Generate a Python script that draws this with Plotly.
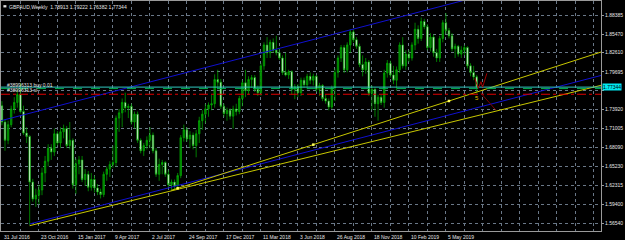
import pandas as pd
import plotly.graph_objects as go

WEEK0 = pd.Timestamp("2016-07-31")

opens = [1.745, 1.720, 1.692, 1.716, 1.740, 1.750, 1.762, 1.736, 1.703, 1.698,
         1.628, 1.602, 1.608, 1.616, 1.642, 1.660, 1.680, 1.674, 1.702, 1.688,
         1.705, 1.710, 1.684, 1.692, 1.624, 1.656, 1.662, 1.632, 1.640, 1.620,
         1.632, 1.619, 1.613, 1.609, 1.640, 1.648, 1.655, 1.658, 1.726, 1.734,
         1.750, 1.742, 1.744, 1.720, 1.732, 1.692, 1.676, 1.684, 1.692, 1.700,
         1.676, 1.640, 1.655, 1.658, 1.640, 1.624, 1.628, 1.622, 1.638, 1.696,
         1.708, 1.694, 1.700, 1.684, 1.702, 1.722, 1.732, 1.740, 1.746, 1.748,
         1.785, 1.781, 1.744, 1.733, 1.738, 1.729, 1.740, 1.736, 1.756, 1.780,
         1.768, 1.785, 1.788, 1.770, 1.765, 1.806, 1.838, 1.826, 1.842, 1.830,
         1.826, 1.818, 1.796, 1.792, 1.797, 1.770, 1.774, 1.765, 1.784, 1.777,
         1.790, 1.784, 1.790, 1.770, 1.776, 1.756, 1.752, 1.743, 1.772, 1.796,
         1.818, 1.834, 1.800, 1.838, 1.858, 1.846, 1.836, 1.808, 1.800, 1.812,
         1.764, 1.770, 1.748, 1.758, 1.750, 1.795, 1.810, 1.792, 1.784, 1.800,
         1.838, 1.806, 1.824, 1.818, 1.838, 1.862, 1.848, 1.874, 1.866, 1.834,
         1.850, 1.826, 1.818, 1.848, 1.872, 1.860, 1.852, 1.832, 1.836, 1.824,
         1.830, 1.834, 1.806, 1.796, 1.78913]
highs = [1.752, 1.724, 1.722, 1.745, 1.758, 1.770, 1.780, 1.745, 1.712, 1.700,
         1.633, 1.618, 1.624, 1.650, 1.668, 1.686, 1.686, 1.710, 1.706, 1.712,
         1.716, 1.714, 1.720, 1.695, 1.664, 1.668, 1.668, 1.648, 1.645, 1.642,
         1.638, 1.625, 1.618, 1.644, 1.652, 1.660, 1.684, 1.730, 1.740, 1.756,
         1.765, 1.748, 1.748, 1.736, 1.736, 1.695, 1.688, 1.698, 1.712, 1.704,
         1.680, 1.664, 1.662, 1.660, 1.646, 1.632, 1.632, 1.642, 1.700, 1.716,
         1.712, 1.706, 1.704, 1.708, 1.728, 1.738, 1.748, 1.750, 1.762, 1.793,
         1.800, 1.786, 1.748, 1.742, 1.741, 1.745, 1.748, 1.760, 1.784, 1.800,
         1.790, 1.792, 1.792, 1.776, 1.810, 1.842, 1.850, 1.846, 1.848, 1.852,
         1.832, 1.822, 1.826, 1.800, 1.799, 1.778, 1.778, 1.788, 1.788, 1.794,
         1.796, 1.794, 1.792, 1.780, 1.778, 1.762, 1.756, 1.776, 1.802, 1.822,
         1.838, 1.838, 1.842, 1.862, 1.862, 1.850, 1.840, 1.822, 1.818, 1.815,
         1.776, 1.773, 1.762, 1.762, 1.800, 1.815, 1.814, 1.806, 1.805, 1.842,
         1.850, 1.830, 1.830, 1.842, 1.872, 1.868, 1.880, 1.878, 1.870, 1.856,
         1.854, 1.832, 1.852, 1.876, 1.887, 1.864, 1.856, 1.840, 1.838, 1.836,
         1.838, 1.836, 1.810, 1.806, 1.79222]
lows = [1.715, 1.676, 1.686, 1.712, 1.733, 1.742, 1.733, 1.700, 1.688, 1.562,
        1.598, 1.590, 1.594, 1.608, 1.628, 1.652, 1.662, 1.668, 1.684, 1.680,
        1.695, 1.680, 1.678, 1.618, 1.610, 1.640, 1.628, 1.622, 1.614, 1.615,
        1.612, 1.608, 1.603, 1.605, 1.630, 1.636, 1.650, 1.652, 1.705, 1.712,
        1.735, 1.726, 1.716, 1.710, 1.688, 1.672, 1.668, 1.678, 1.680, 1.672,
        1.636, 1.630, 1.640, 1.636, 1.620, 1.615, 1.616, 1.618, 1.634, 1.690,
        1.690, 1.680, 1.678, 1.666, 1.688, 1.708, 1.718, 1.728, 1.738, 1.742,
        1.770, 1.740, 1.728, 1.722, 1.724, 1.710, 1.730, 1.732, 1.744, 1.758,
        1.762, 1.772, 1.766, 1.760, 1.760, 1.800, 1.818, 1.818, 1.826, 1.822,
        1.815, 1.792, 1.790, 1.786, 1.762, 1.755, 1.758, 1.760, 1.772, 1.770,
        1.778, 1.776, 1.766, 1.760, 1.752, 1.748, 1.738, 1.740, 1.752, 1.788,
        1.812, 1.795, 1.796, 1.826, 1.842, 1.832, 1.804, 1.790, 1.794, 1.760,
        1.738, 1.728, 1.722, 1.746, 1.742, 1.788, 1.788, 1.778, 1.768, 1.795,
        1.802, 1.800, 1.812, 1.814, 1.830, 1.840, 1.844, 1.862, 1.830, 1.828,
        1.820, 1.812, 1.812, 1.842, 1.855, 1.848, 1.828, 1.818, 1.820, 1.818,
        1.822, 1.802, 1.790, 1.784, 1.76382]
closes = [1.720, 1.692, 1.716, 1.740, 1.750, 1.762, 1.736, 1.703, 1.698, 1.628,
          1.602, 1.608, 1.616, 1.642, 1.660, 1.680, 1.674, 1.702, 1.688, 1.705,
          1.710, 1.684, 1.692, 1.624, 1.656, 1.662, 1.632, 1.640, 1.620, 1.632,
          1.619, 1.613, 1.609, 1.640, 1.648, 1.655, 1.658, 1.726, 1.734, 1.750,
          1.742, 1.744, 1.720, 1.732, 1.692, 1.676, 1.684, 1.692, 1.700, 1.676,
          1.640, 1.655, 1.658, 1.640, 1.624, 1.628, 1.622, 1.638, 1.696, 1.708,
          1.694, 1.700, 1.684, 1.702, 1.722, 1.732, 1.740, 1.746, 1.748, 1.785,
          1.781, 1.744, 1.733, 1.738, 1.729, 1.740, 1.736, 1.756, 1.780, 1.768,
          1.785, 1.788, 1.770, 1.765, 1.806, 1.838, 1.826, 1.842, 1.830, 1.826,
          1.818, 1.796, 1.792, 1.797, 1.770, 1.774, 1.765, 1.784, 1.777, 1.790,
          1.784, 1.790, 1.770, 1.776, 1.756, 1.752, 1.743, 1.772, 1.796, 1.818,
          1.834, 1.800, 1.838, 1.858, 1.846, 1.836, 1.808, 1.800, 1.812, 1.764,
          1.770, 1.748, 1.758, 1.750, 1.795, 1.810, 1.792, 1.784, 1.800, 1.838,
          1.806, 1.824, 1.818, 1.838, 1.862, 1.848, 1.874, 1.866, 1.834, 1.850,
          1.826, 1.818, 1.848, 1.872, 1.860, 1.852, 1.832, 1.836, 1.824, 1.830,
          1.834, 1.806, 1.796, 1.789, 1.77344]

price_ticks = [1.88385, 1.85470, 1.82610, 1.79695, 1.76780, 1.73920,
               1.71005, 1.68090, 1.65230, 1.62315, 1.59400, 1.56540]
hidden_tick = 1.76780
date_labels = ["31 Jul 2016", "23 Oct 2016", "15 Jan 2017", "9 Apr 2017",
               "2 Jul 2017", "24 Sep 2017", "17 Dec 2017", "11 Mar 2018",
               "3 Jun 2018", "26 Aug 2018", "18 Nov 2018", "10 Feb 2019",
               "5 May 2019"]
date_label_weeks = [0, 12, 24, 36, 48, 60, 72, 84, 96, 108, 120, 132, 144]

title_text = "GBPAUD,Weekly  1.78913 1.79222 1.76382 1.77344"

# trend lines: anchor (week index, price)
blue_lower = [(9, 1.5639), (150, 1.7369)]
blue_upper = [(0, 1.7224), (100, 1.8451)]
yellow_lower = [(9, 1.5613), (150, 1.7248)]
yellow_upper = [(55, 1.6155), (145, 1.7522)]
yellow_dot_weeks = [57, 101, 145]

bid_price = 1.77344
order_price = 1.7712
sl_price = 1.7625
order_label = "#38996313 buy 0.01"
sl_label = "#38996313 sl"

red_zig_weeks = [153.4, 154.5, 155.4, 155.9, 157.3]
red_zig_prices = [1.7869, 1.7716, 1.7817, 1.7732, 1.7946]
red_diag_weeks = [155.4, 160.2]
red_diag_prices = [1.7640, 1.7384]
wave_label = "5"
wave_label_week = 154.2
wave_label_price = 1.7568


def wk(w):
    return WEEK0 + pd.Timedelta(days=7 * w)


PX_PER_WEEK = 3.083
PLOT_W = 600
x_left = -0.3
x_right = x_left + PLOT_W / PX_PER_WEEK
y_range = [1.55315, 1.90528]

dates = [wk(i) for i in range(len(closes))]

FONT = "Liberation Sans, Arial, sans-serif"
TXT = "#e6e6e6"

fig = go.Figure()

fig.add_trace(go.Candlestick(
    x=dates, open=opens, high=highs, low=lows, close=closes,
    increasing=dict(line=dict(color="#00b000", width=0.7), fillcolor="#007a00"),
    decreasing=dict(line=dict(color="#00b000", width=0.7), fillcolor="#ffffff"),
    whiskerwidth=0, hoverinfo="skip"))


def ray(anchors, w_start, w_end):
    (w0, p0), (w1, p1) = anchors
    s = (p1 - p0) / (w1 - w0)
    return [wk(w_start), wk(w_end)], [p0 + s * (w_start - w0), p0 + s * (w_end - w0)]


for anchors, start, col in [(blue_upper, x_left, "#1010d0"),
                            (blue_lower, blue_lower[0][0], "#1010d0"),
                            (yellow_lower, yellow_lower[0][0], "#c8c800"),
                            (yellow_upper, yellow_upper[0][0], "#c8c800")]:
    xs, ys = ray(anchors, start, x_right)
    fig.add_trace(go.Scatter(x=xs, y=ys, mode="lines",
                             line=dict(color=col, width=1), hoverinfo="skip"))

(w0, p0), (w1, p1) = yellow_upper
dot_prices = [p0 + (p1 - p0) / (w1 - w0) * (w - w0) for w in yellow_dot_weeks]
fig.add_trace(go.Scatter(x=[wk(w) for w in yellow_dot_weeks], y=dot_prices,
                         mode="markers", marker=dict(symbol="square", size=2.5,
                                                     color="#ffff60"),
                         hoverinfo="skip"))

# horizontal order / bid / stop lines
full = [wk(x_left), wk(x_right)]
fig.add_trace(go.Scatter(x=full, y=[order_price] * 2, mode="lines",
                         line=dict(color="#00b050", width=1, dash="dash"), hoverinfo="skip"))
fig.add_trace(go.Scatter(x=full, y=[bid_price] * 2, mode="lines",
                         line=dict(color="#30c8c0", width=1), hoverinfo="skip"))
fig.add_trace(go.Scatter(x=full, y=[sl_price] * 2, mode="lines",
                         line=dict(color="#e00000", width=1, dash="dashdot"), hoverinfo="skip"))

# red wave drawings
fig.add_trace(go.Scatter(x=[wk(w) for w in red_zig_weeks], y=red_zig_prices, mode="lines",
                         line=dict(color="#a00000", width=1), hoverinfo="skip"))
fig.add_trace(go.Scatter(x=[wk(w) for w in red_diag_weeks], y=red_diag_prices, mode="lines",
                         line=dict(color="#800000", width=1), hoverinfo="skip"))

annotations = []
for w, lab in zip(date_label_weeks, date_labels):
    annotations.append(dict(x=wk(w), xref="x", y=0, yref="paper", text=lab,
                            xanchor="left", yanchor="top", yshift=-1, showarrow=False,
                            font=dict(family=FONT, size=5, color=TXT)))
annotations.append(dict(x=0, xref="paper", y=1, yref="paper", text=title_text,
                        xanchor="left", yanchor="top", xshift=6, yshift=-1,
                        showarrow=False, font=dict(family=FONT, size=5, color=TXT)))
annotations.append(dict(x=0, xref="paper", y=order_price, yref="y", text=order_label,
                        xanchor="left", yanchor="bottom", xshift=4, yshift=-1,
                        showarrow=False, font=dict(family=FONT, size=5, color=TXT)))
annotations.append(dict(x=0, xref="paper", y=sl_price, yref="y", text=sl_label,
                        xanchor="left", yanchor="bottom", xshift=4, yshift=-1,
                        showarrow=False, font=dict(family=FONT, size=5, color=TXT)))
annotations.append(dict(x=1, xref="paper", y=bid_price, yref="y",
                        text=f"{bid_price:.5f}", xanchor="left", yanchor="middle",
                        xshift=1, showarrow=False, bgcolor="#00e8f0", borderpad=0,
                        font=dict(family=FONT, size=5, color="#000000")))
annotations.append(dict(x=wk(wave_label_week), xref="x", y=wave_label_price, yref="y",
                        text=wave_label, showarrow=False,
                        font=dict(family=FONT, size=6, color="#e0c000")))

grid_weeks = list(range(0, int(x_right) + 1, 6))
tick_text = ["" if v == hidden_tick else f"{v:.5f}" for v in price_ticks]

fig.update_layout(
    width=625, height=240,
    margin=dict(l=1, r=24, t=1, b=9),
    paper_bgcolor="#000000", plot_bgcolor="#000000",
    showlegend=False,
    annotations=annotations,
    shapes=[dict(type="rect", xref="paper", yref="paper", x0=0.004, x1=0.009,
                 y0=0.972, y1=0.982, fillcolor="#e0e0e0", line=dict(width=0))],
    xaxis=dict(type="date", range=[wk(x_left), wk(x_right)],
               rangeslider=dict(visible=False),
               tickvals=[wk(w) for w in grid_weeks], showticklabels=False,
               showgrid=True, gridcolor="#6a7888", griddash="dot", gridwidth=1,
               showline=True, linecolor="#9a9a9a", linewidth=1, mirror=True,
               zeroline=False, ticks=""),
    yaxis=dict(side="right", range=y_range, tickvals=price_ticks, ticktext=tick_text,
               showgrid=True, gridcolor="#6a7888", griddash="dot", gridwidth=1,
               showline=True, linecolor="#9a9a9a", linewidth=1, mirror=True,
               zeroline=False, ticks="outside", ticklen=2, tickcolor="#9a9a9a",
               tickfont=dict(family=FONT, size=5, color=TXT)),
)

fig.write_html("out.html")
